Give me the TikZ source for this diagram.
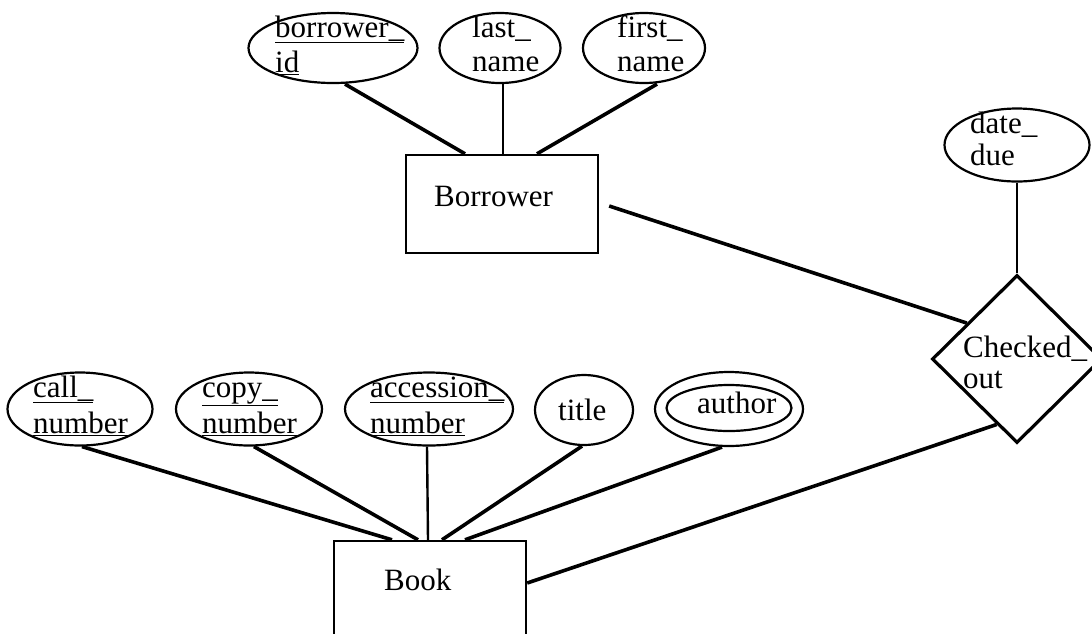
\documentclass[tikz,border=0pt]{standalone}
\usepackage{fontspec}
\setmainfont{Liberation Serif}
\usetikzlibrary{shapes.geometric,calc}
\newcommand{\mystrut}{\rule{0pt}{22pt}}
\begin{document}
\begin{tikzpicture}[x=1pt,y=-1pt,
  attr/.style={ellipse,draw,line width=2.2pt,inner sep=0pt},
  ent/.style={rectangle,draw,line width=2.4pt,inner sep=0pt},
  rel/.style={diamond,draw,line width=3.2pt,inner sep=0pt},
  lbl/.style={inner sep=0pt,align=left,anchor=north west,font=\fontsize{31}{35}\selectfont},
  link/.style={line width=3.6pt},
  thinlink/.style={line width=2.4pt}]
\useasboundingbox (0,0) rectangle (1092,633);
\clip (0,0) rectangle (1092,633);

% Borrower entity and attributes
\node[ent,minimum width=192pt,minimum height=98pt] (borrower) at (502,204) {};
\node[lbl,anchor=base west] (borrowertext) at (434,206) {Borrower};

\node[attr,minimum width=169pt,minimum height=70pt] (bid) at (333,48) {};
\node[lbl,font=\fontsize{31}{35}\selectfont] (bidtext) at (275,15) {\mystrut\underline{borrower\_}\\\underline{id}};
\node[attr,minimum width=121pt,minimum height=70pt] (last) at (500,48) {};
\node[lbl,font=\fontsize{31}{34}\selectfont] (lasttext) at (472,15) {\mystrut last\_\\name};
\node[attr,minimum width=122pt,minimum height=70pt] (first) at (644,48) {};
\node[lbl,font=\fontsize{31}{34}\selectfont] (firsttext) at (617,15) {\mystrut first\_\\name};

% Relationship
\node[rel,minimum width=170pt,minimum height=168pt] (co) at (1017,359) {};
\node[lbl,font=\fontsize{31}{31}\selectfont] (cotext) at (963,335) {\mystrut Checked\_\\out};
\node[attr,minimum width=145pt,minimum height=73pt] (due) at (1017,145) {};
\node[lbl,font=\fontsize{31}{32}\selectfont] (duetext) at (970,111) {\mystrut date\_\\due};

% Book entity and attributes
\node[ent,minimum width=192pt,minimum height=118pt] (book) at (430,600) {};
\node[lbl,anchor=base west] (booktext) at (384,590) {Book};

\node[attr,minimum width=145pt,minimum height=73pt] (call) at (80,409) {};
\node[lbl,font=\fontsize{31}{36}\selectfont] (calltext) at (33,375) {\mystrut\underline{call\_}\\\underline{number}};
\node[attr,minimum width=146pt,minimum height=73pt] (copy) at (249,409) {};
\node[lbl,font=\fontsize{31}{36}\selectfont] (copytext) at (202,375) {\mystrut\underline{copy\_}\\\underline{number}};
\node[attr,minimum width=168pt,minimum height=73pt] (acc) at (429,409) {};
\node[lbl,font=\fontsize{31}{36}\selectfont] (acctext) at (370,375) {\mystrut\underline{accession\_}\\\underline{number}};
\node[attr,minimum width=98pt,minimum height=70pt] (title) at (584,410) {};
\node[lbl,anchor=base west] (titletext) at (558,420) {title};
\node[attr,minimum width=148pt,minimum height=74pt] (author) at (729,409) {};
\node[attr,minimum width=125pt,minimum height=46pt] (authorin) at (729,408) {};
\node[lbl,anchor=base west] (authortext) at (697,413) {author};

% Connectors
\draw[link] ([xshift=12pt]bid.south) -- ([xshift=-37pt]borrower.north);
\draw[thinlink] ([xshift=3pt]last.south) -- ([xshift=1pt]borrower.north);
\draw[link] ([xshift=13pt]first.south) -- ([xshift=35pt]borrower.north);
\draw[link] ([xshift=10pt,yshift=-2pt]borrower.east) -- ($(co.north)!0.58!(co.west)$);
\draw[thinlink] (due.south) -- (co.north);
\draw[link] ([yshift=17pt]book.east) -- ($(co.south)!0.235!(co.west)$);
\draw[link] ([xshift=2pt]call.south) -- ([xshift=-38pt]book.north);
\draw[link] ([xshift=5pt]copy.south) -- ([xshift=-12pt]book.north);
\draw[thinlink] ([xshift=-2pt]acc.south) -- ([xshift=-2pt]book.north);
\draw[link] ([xshift=-2pt]title.south) -- ([xshift=12pt]book.north);
\draw[link] ([xshift=-7pt]author.south) -- ([xshift=35pt]book.north);
\end{tikzpicture}
\end{document}
